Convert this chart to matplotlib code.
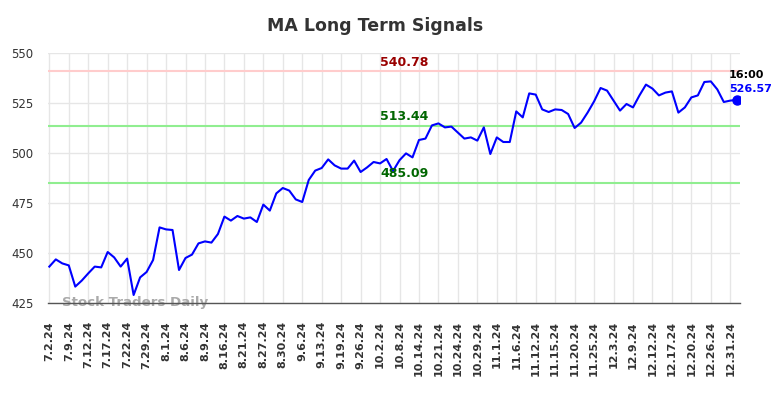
import matplotlib
matplotlib.use("Agg")
import matplotlib.pyplot as plt
import numpy as np

title = "MA Long Term Signals"
tick_labels = ["7.2.24", "7.9.24", "7.12.24", "7.17.24", "7.22.24", "7.29.24", "8.1.24", "8.6.24",
               "8.9.24", "8.16.24", "8.21.24", "8.27.24", "8.30.24", "9.6.24", "9.13.24", "9.19.24",
               "9.26.24", "10.2.24", "10.8.24", "10.14.24", "10.21.24", "10.24.24", "10.29.24",
               "11.1.24", "11.6.24", "11.12.24", "11.15.24", "11.20.24", "11.25.24", "12.3.24",
               "12.9.24", "12.12.24", "12.17.24", "12.20.24", "12.26.24", "12.31.24"]
prices = [443.2, 446.8, 444.8, 443.8, 433.2, 436.2, 439.8, 443.2, 442.8, 450.5,
          447.8, 443.2, 447.2, 429.0, 437.8, 440.5, 446.5, 462.8, 461.8, 461.5,
          441.5, 447.5, 449.2, 454.8, 455.8, 455.2, 459.5, 468.2, 466.2, 468.5,
          467.2, 467.8, 465.5, 474.2, 471.2, 479.8, 482.5, 481.2, 476.8, 475.5,
          486.5, 491.2, 492.5, 496.8, 493.8, 492.2, 492.2, 496.2, 490.5, 492.8,
          495.5, 494.8, 497.0, 491.0, 496.4, 499.8, 497.8, 506.5, 507.2, 513.8,
          514.8, 512.8, 513.2, 510.2, 507.2, 507.8, 506.2, 512.8, 499.5, 507.8,
          505.5, 505.5, 520.8, 517.8, 529.8, 529.2, 521.8, 520.5, 521.8, 521.5,
          519.5, 512.5, 515.2, 520.2, 525.8, 532.5, 531.2, 526.2, 521.2, 524.5,
          522.8, 528.8, 534.2, 532.2, 528.8, 530.2, 530.8, 520.2, 522.8, 527.8,
          528.8, 535.5, 535.8, 531.8, 525.5, 526.2, 526.57]
resistance = 540.78
support_hi = 513.44
support_lo = 485.09
last_time = "16:00"
y_ticks = [425, 450, 475, 500, 525, 550]

fig = plt.figure(figsize=(7.84, 3.98), dpi=100)
ax = fig.add_axes([47.5 / 784, 1 - 303 / 398, (740 - 47.5) / 784, 250 / 398])

x = np.arange(len(prices))
ax.plot(x, prices, color="#0000ff", lw=1.5, zorder=3)
ax.plot(x[-1], prices[-1], "o", color="#0000ff", ms=6.5, zorder=4)

ax.axhline(resistance, color="#ffcccc", lw=1.5, zorder=2)
ax.axhline(support_hi, color="#90ee90", lw=1.5, zorder=2)
ax.axhline(support_lo, color="#90ee90", lw=1.5, zorder=2)

lx = 51
ax.annotate(f"{resistance:.2f}", (lx, resistance), xytext=(0, 2), textcoords="offset points",
            ha="left", va="bottom", color="#990000", fontsize=9, fontweight="bold")
ax.annotate(f"{support_hi:.2f}", (lx, support_hi), xytext=(0, 2), textcoords="offset points",
            ha="left", va="bottom", color="#006600", fontsize=9, fontweight="bold")
ax.annotate(f"{support_lo:.2f}", (lx, support_lo), xytext=(0, 2), textcoords="offset points",
            ha="left", va="bottom", color="#006600", fontsize=9, fontweight="bold")

ax.annotate(f"{prices[-1]:.2f}", (x[-1], prices[-1]), xytext=(-5.5, 4), textcoords="offset points",
            ha="left", va="bottom", color="#0000ff", fontsize=8, fontweight="bold")
ax.annotate(last_time, (x[-1], prices[-1]), xytext=(-5.5, 14), textcoords="offset points",
            ha="left", va="bottom", color="#000000", fontsize=8, fontweight="bold")

ax.text(2, 425.3, "Stock Traders Daily", ha="left", va="center", color="#aaaaaa",
        fontsize=9.6, fontweight="bold", zorder=1)

ax.set_xlim(-0.28, 106.5)
ax.set_ylim(425, 550)
ax.set_xticks(np.arange(0, 3 * len(tick_labels), 3))
ax.set_xticklabels(tick_labels, rotation=90, fontsize=8, fontweight="bold", color="#333333")
ax.set_yticks(y_ticks)
ax.set_yticklabels([str(v) for v in y_ticks], fontsize=8.5, color="#333333")
ax.tick_params(axis="x", length=0, pad=13)
ax.tick_params(axis="y", length=0, pad=10)

ax.grid(True, color="#e6e6e6", lw=1)
ax.set_axisbelow(True)
for s in ["top", "right", "left"]:
    ax.spines[s].set_visible(False)
ax.spines["bottom"].set_color("#555555")
ax.spines["bottom"].set_linewidth(1)

fig.text(375 / 784, 1 - 26 / 398, title, ha="center", va="center", fontsize=12.5,
         fontweight="bold", color="#333333")

fig.savefig("out.png", dpi=100)
